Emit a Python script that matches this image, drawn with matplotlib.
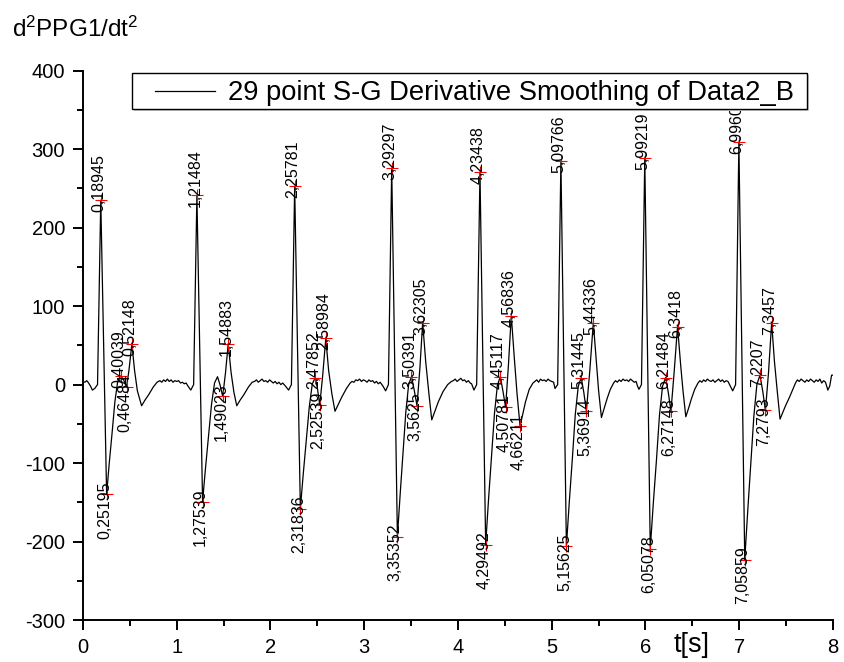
import matplotlib
matplotlib.use("Agg")
import matplotlib.pyplot as plt
from matplotlib.lines import Line2D
from matplotlib.patches import Rectangle
from matplotlib.ticker import MultipleLocator

plt.rcParams["font.family"] = ["Liberation Sans", "DejaVu Sans"]
plt.rcParams["mathtext.fontset"] = "custom"
plt.rcParams["mathtext.rm"] = "Liberation Sans"
plt.rcParams["mathtext.it"] = "Liberation Sans:italic"
plt.rcParams["axes.unicode_minus"] = False

# smoothed 2nd derivative of PPG1
t = [
    # beat 1
    0.000, 0.020, 0.040, 0.060, 0.080, 0.100, 0.125, 0.155, 0.18945, 0.25195,
    0.280, 0.310, 0.340, 0.370, 0.40039, 0.430, 0.46484, 0.490, 0.52148, 0.550,
    0.580, 0.625, 0.660, 0.700, 0.750, 0.790,
    0.82, 0.84, 0.86, 0.88, 0.90, 0.92, 0.94, 0.96, 0.98, 1.00, 1.02, 1.04,
    1.06, 1.08, 1.10, 1.12,
    # beat 2
    1.150, 1.180, 1.21484, 1.27539, 1.307, 1.339, 1.371, 1.403, 1.435, 1.463,
    1.49023, 1.520, 1.54883, 1.580, 1.610, 1.640, 1.675, 1.715, 1.765, 1.805,
    1.83, 1.85, 1.87, 1.89, 1.91, 1.93, 1.95, 1.97, 1.99, 2.01, 2.03, 2.05,
    2.07, 2.09, 2.11, 2.13, 2.16,
    # beat 3
    2.193, 2.223, 2.25781, 2.31836, 2.350, 2.382, 2.414, 2.446, 2.47852, 2.502,
    2.52539, 2.557, 2.58984, 2.620, 2.655, 2.688, 2.720, 2.760, 2.810, 2.850,
    2.87, 2.89, 2.91, 2.93, 2.95, 2.97, 2.99, 3.01, 3.03, 3.05, 3.07, 3.09,
    3.11, 3.13, 3.15, 3.17, 3.20,
    # beat 4
    3.228, 3.258, 3.29297, 3.35352, 3.3835, 3.4135, 3.4435, 3.4735, 3.50391, 3.533,
    3.5625, 3.593, 3.62305, 3.655, 3.690, 3.720, 3.750, 3.790, 3.840, 3.890, 3.930,
    3.95, 3.97, 3.99, 4.01, 4.03, 4.05, 4.07, 4.09, 4.11, 4.13, 4.145,
    # beat 5
    4.170, 4.199, 4.23438, 4.29492, 4.326, 4.357, 4.389, 4.420, 4.45117, 4.479,
    4.50781, 4.538, 4.56836, 4.600, 4.630, 4.66211, 4.690, 4.720, 4.760, 4.800,
    4.82, 4.84, 4.86, 4.88, 4.90, 4.92, 4.94, 4.96, 4.98, 5.00, 5.02,
    # beat 6
    5.035, 5.063, 5.09766, 5.15625, 5.188, 5.220, 5.251, 5.283, 5.31445, 5.342,
    5.36914, 5.406, 5.44336, 5.475, 5.500, 5.530, 5.560, 5.590, 5.625, 5.660,
    5.68, 5.70, 5.72, 5.74, 5.76, 5.78, 5.80, 5.82, 5.84, 5.86, 5.88, 5.90, 5.915,
    # beat 7
    5.930, 5.957, 5.99219, 6.05078, 6.084, 6.117, 6.149, 6.182, 6.21484, 6.243,
    6.27148, 6.305, 6.3418, 6.375, 6.400, 6.430, 6.460, 6.490, 6.525, 6.560,
    6.58, 6.60, 6.62, 6.64, 6.66, 6.68, 6.70, 6.72, 6.74, 6.76, 6.78, 6.80,
    6.82, 6.84, 6.86, 6.88, 6.905,
    # beat 8
    6.930, 6.961, 6.99609, 7.05859, 7.091, 7.123, 7.156, 7.188, 7.2207, 7.250,
    7.2793, 7.312, 7.3457, 7.375, 7.405, 7.435, 7.490, 7.540, 7.600,
    7.62, 7.64, 7.66, 7.68, 7.70, 7.72, 7.74, 7.76, 7.78, 7.80, 7.82, 7.84,
    7.86, 7.88, 7.90, 7.92, 7.945, 7.965, 7.985, 8.000,
]
y = [
    # beat 1
    4, 3, 5, 2, -2, -7, -5, 0, 235, -140,
    -100, -62, -22, 4, 11, 7, -3, 18, 52, 18,
    -8, -27, -20, -13, -3, 3,
    5, 3, 6, 4, 7, 4, 6, 3, 5, 4, 5, 2,
    3, 1, 2, -2,
    # beat 2
    -7, 0, 241, -149, -106, -66, -25, 2, 10, -1,
    -15, 15, 52, 15, -10, -27, -20, -13, -3, 3,
    4, 6, 3, 5, 7, 4, 5, 3, 6, 4, 2, 4,
    1, 3, 0, 2, -2,
    # beat 3
    -7, 0, 253, -158, -113, -71, -28, 1, 9, -6,
    -26, 12, 59, 18, -12, -34, -26, -16, -5, 2,
    4, 3, 6, 5, 7, 4, 6, 5, 3, 6, 4, 5,
    2, 4, 1, 3, -2,
    # beat 4
    -8, 0, 276, -194, -139, -88, -35, 0, 10, -7,
    -27, 20, 79, 30, -12, -45, -35, -22, -9, 0, 4,
    5, 7, 4, 6, 8, 5, 6, 3, 5, 2, 1,
    # beat 5
    -7, 0, 271, -204, -146, -93, -37, -1, 10, -8,
    -29, 25, 88, 35, -12, -53, -38, -22, -6, 2,
    4, 6, 3, 7, 5, 6, 4, 7, 5, 4, 3,
    # beat 6
    -5, 0, 285, -206, -148, -94, -38, -2, 9, -10,
    -34, 18, 79, 30, -8, -42, -30, -18, -6, 2,
    5, 3, 6, 4, 7, 5, 6, 4, 7, 5, 3, 4, -2,
    # beat 7
    -6, 0, 289, -209, -150, -96, -39, -2, 9, -10,
    -34, 15, 74, 25, -8, -41, -30, -18, -6, 2,
    5, 3, 6, 4, 7, 5, 4, 6, 3, 5, 7, 4,
    6, 3, 5, 4, -2,
    # beat 8
    -8, 0, 309, -223, -160, -101, -40, 0, 12, -8,
    -33, 15, 79, 30, -8, -44, -28, -15, 2,
    6, 4, 7, 5, 3, 6, 4, 7, 5, 3, 6, 4,
    7, 2, 5, 3, -7, -2, 12, 12,
]

# picked points, label text above the mark
up_labels = ["0,18945", "0,40039", "0,52148", "1,21484", "1,54883", "2,25781",
             "2,47852", "2,58984", "3,29297", "3,50391", "3,62305", "4,23438",
             "4,45117", "4,56836", "5,09766", "5,31445", "5,44336", "5,99219",
             "6,21484", "6,3418", "6,99609", "7,2207", "7,3457"]
up_values = [235, 11, 52, 241, 52, 253, 9, 59, 276, 10, 79, 271,
             10, 88, 285, 9, 79, 289, 9, 74, 309, 12, 79]

# picked points, label text below the mark
down_labels = ["0,25195", "0,46484", "1,27539", "1,49023", "2,31836", "2,52539",
               "3,35352", "3,5625", "4,29492", "4,50781", "4,66211", "5,15625",
               "5,36914", "6,05078", "6,27148", "7,05859", "7,2793"]
down_values = [-140, -3, -149, -15, -158, -26, -194, -27, -204, -29, -53, -206,
               -34, -209, -34, -223, -33]

legend_label = "29 point S-G Derivative Smoothing of Data2_B"


def to_time(label):
    return float(label.replace(",", "."))


fig = plt.figure(figsize=(8.45, 6.62), dpi=100)
ax = fig.add_axes([83 / 845, 1 - 620 / 662, 750 / 845, 549.3 / 662])

ax.plot(t, y, color="black", lw=0.9, zorder=2)

ax.plot([to_time(s) for s in up_labels], up_values, "+", color="red",
        ms=9, mew=0.8, zorder=3)
ax.plot([to_time(s) for s in down_labels], down_values, "+", color="red",
        ms=9, mew=0.8, zorder=3)

for lbl, val in zip(up_labels, up_values):
    ax.annotate(lbl, (to_time(lbl), val), xytext=(-1.4, -8.6),
                textcoords="offset points", rotation=90, ha="center",
                va="bottom", fontsize=11.5, zorder=4)
for lbl, val in zip(down_labels, down_values):
    ax.annotate(lbl, (to_time(lbl), val), xytext=(-1.4, 9.4),
                textcoords="offset points", rotation=90, ha="center",
                va="top", fontsize=11.5, zorder=4)

ax.set_xlim(0, 8)
ax.set_ylim(-300, 400)
ax.xaxis.set_major_locator(MultipleLocator(1))
ax.xaxis.set_minor_locator(MultipleLocator(0.5))
ax.yaxis.set_major_locator(MultipleLocator(100))
ax.yaxis.set_minor_locator(MultipleLocator(50))

for side in ("top", "right"):
    ax.spines[side].set_visible(False)
for side in ("left", "bottom"):
    ax.spines[side].set_linewidth(1.4)
ax.tick_params(which="major", direction="out", length=7, width=1.4,
               labelsize=14.5, pad=6)
ax.tick_params(which="minor", direction="out", length=4, width=1.4)

ax.set_ylabel(r"d$^2$PPG1/dt$^2$", fontsize=17.5, rotation=0, ha="left",
              va="baseline")
ax.yaxis.set_label_coords(-0.0947, 1.0613)
ax.set_xlabel("t[s]", fontsize=19.5, va="baseline")
ax.xaxis.set_label_coords(0.812, -0.0583)

# legend box drawn by hand to match the original placement
box_x, box_y, box_w, box_h = 0.0653, 0.9303, 0.9, 0.0661
ax.add_patch(Rectangle((box_x + 0.0027, box_y - 0.0036), box_w, box_h,
                       transform=ax.transAxes, facecolor="0.8", edgecolor="none",
                       zorder=9, clip_on=False))
ax.add_patch(Rectangle((box_x, box_y), box_w, box_h, transform=ax.transAxes,
                       facecolor="white", edgecolor="black", lw=1.0, zorder=10,
                       clip_on=False))
ax.add_line(Line2D([0.096, 0.176], [0.963, 0.963], transform=ax.transAxes,
                   color="black", lw=0.9, zorder=11, clip_on=False))
ax.text(0.1933, 0.9467, legend_label, transform=ax.transAxes, fontsize=19.7,
        va="baseline", ha="left", zorder=11)

fig.savefig("out.png", dpi=100)
